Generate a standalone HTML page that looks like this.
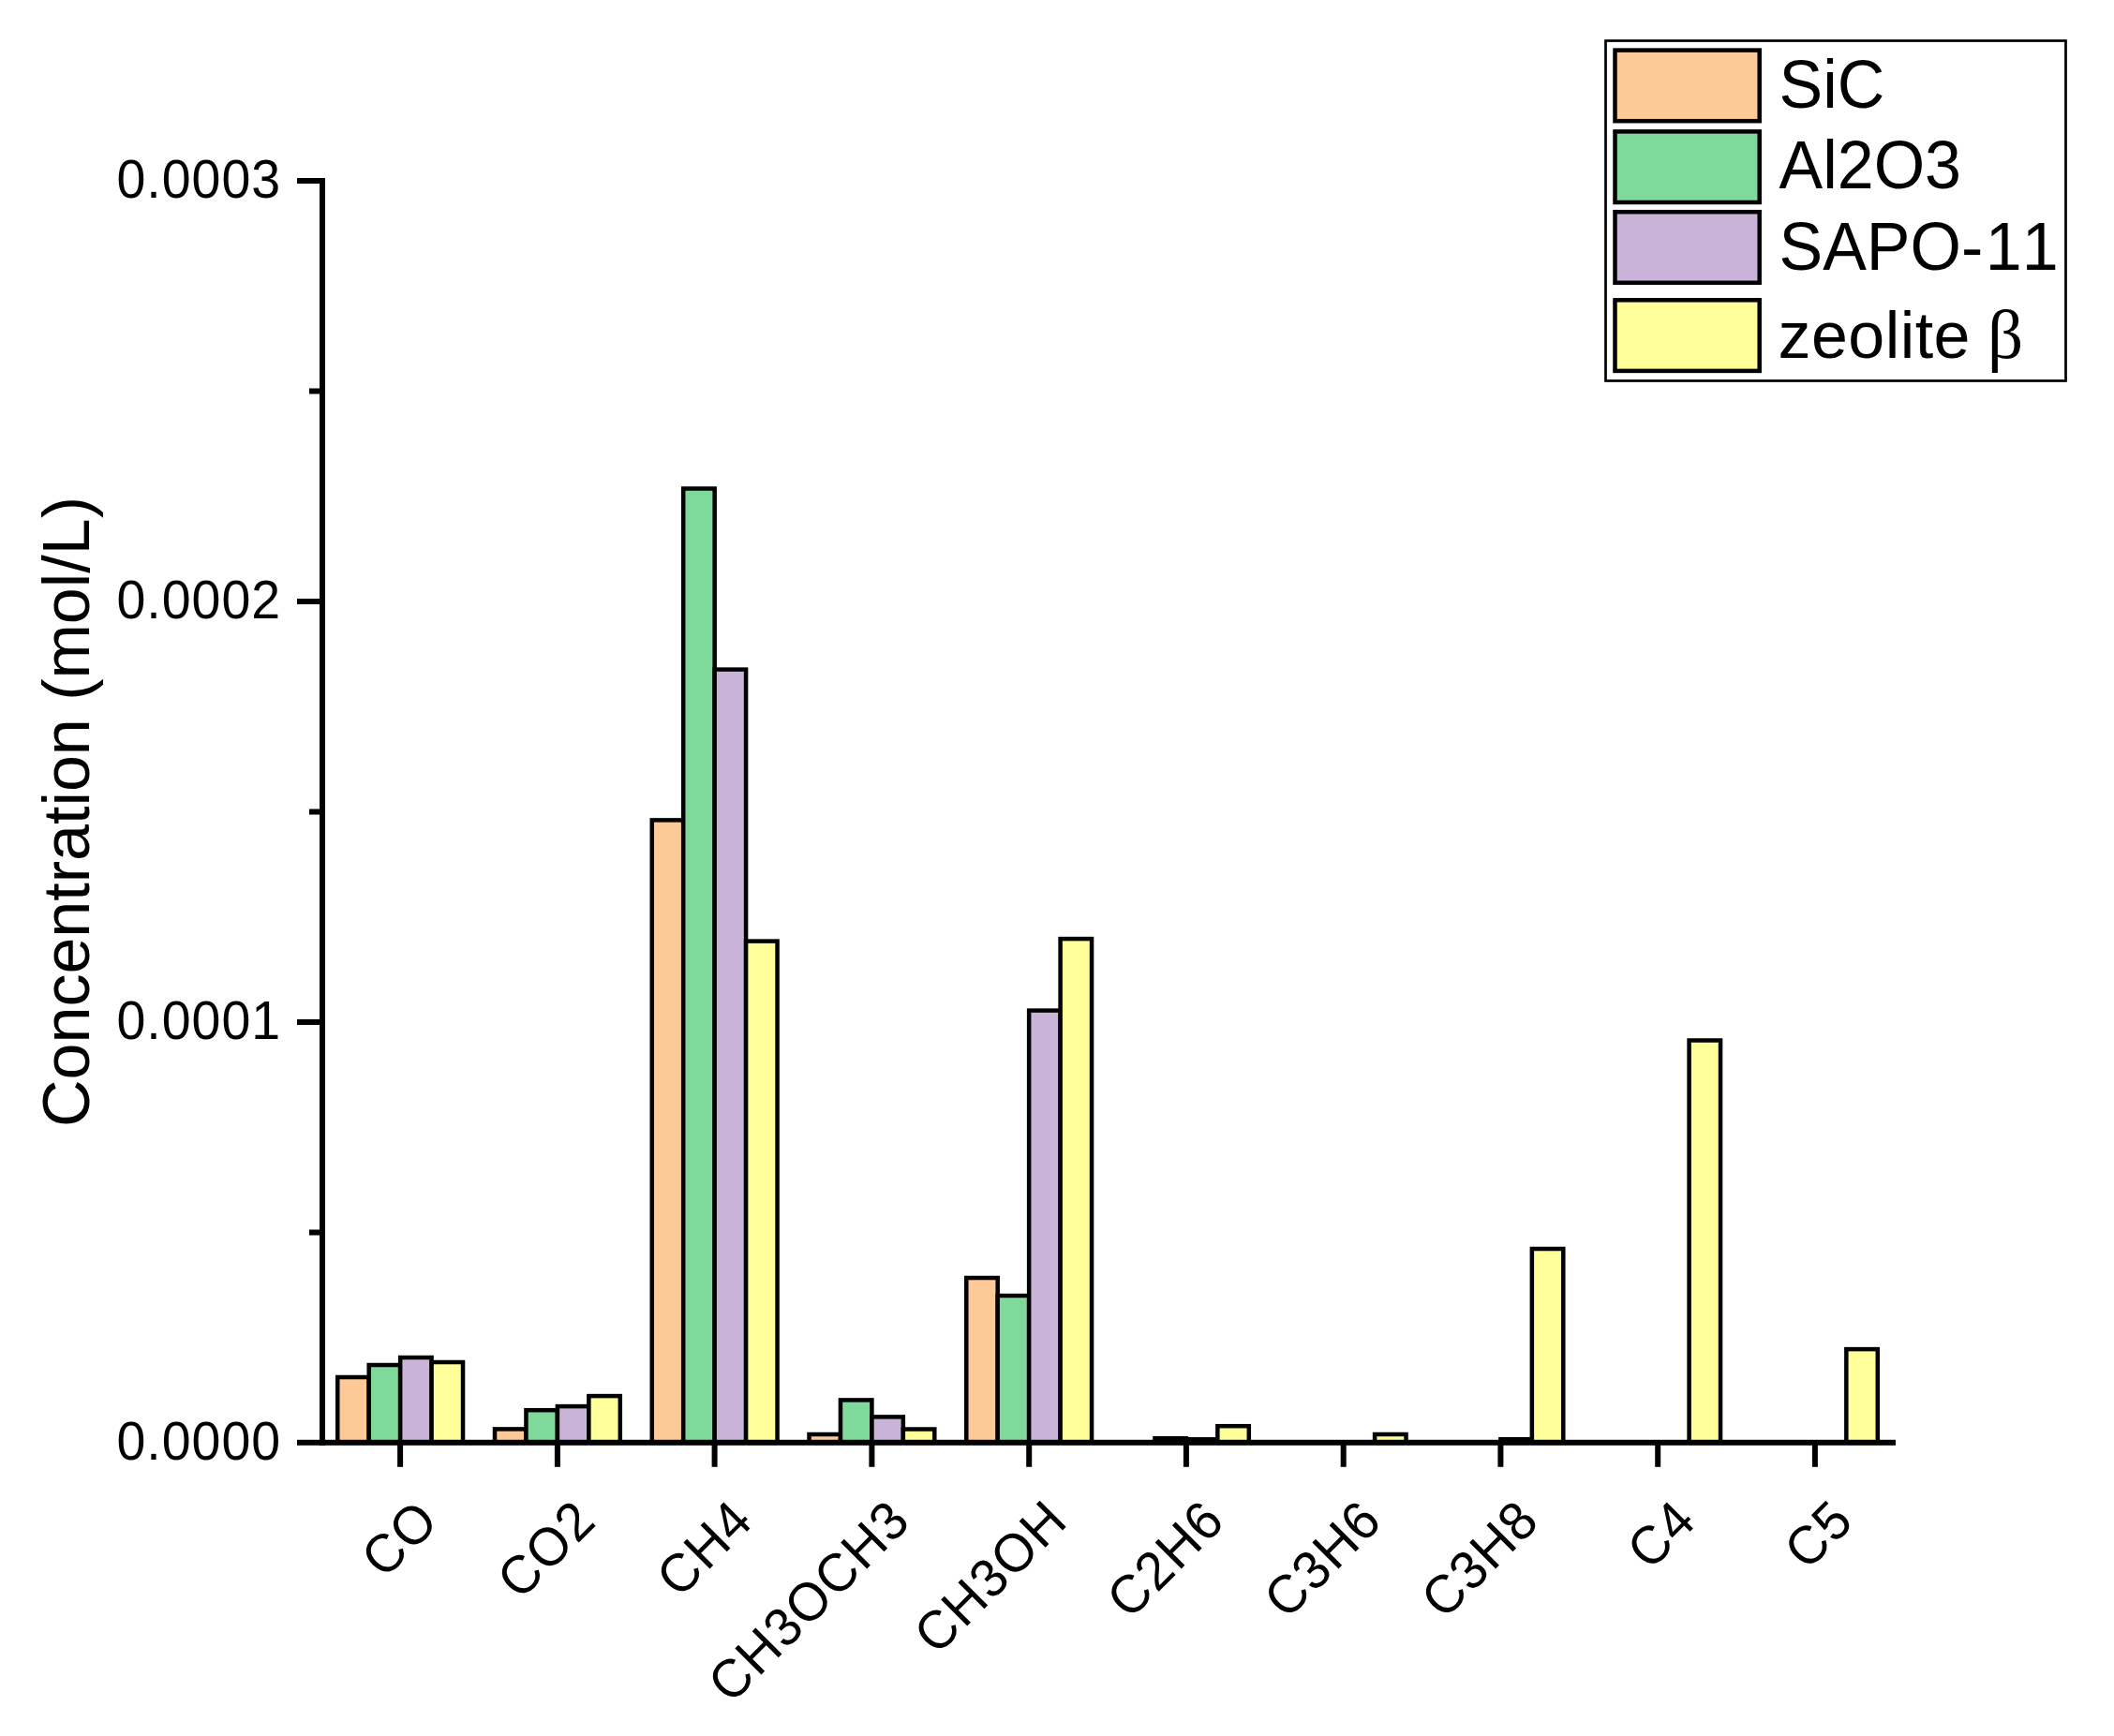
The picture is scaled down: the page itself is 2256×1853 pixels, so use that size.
<!DOCTYPE html>
<html lang="en">
<head>
<meta charset="utf-8">
<title>Concentration bar chart</title>
<style>
html,body{margin:0;padding:0;background:#fff;}
body{width:2256px;height:1853px;overflow:hidden;}
svg{display:block;}
text{font-family:"Liberation Sans",Arial,Helvetica,sans-serif;fill:#000;font-kerning:none;}
.t{font-size:55.5px;letter-spacing:1.0px;}
.x{letter-spacing:1.35px;}
.l{font-size:70px;letter-spacing:0px;}
.b{stroke:#000;stroke-width:4.5;stroke-linejoin:miter;}
.sym{font-family:"Liberation Serif","DejaVu Serif",serif;}
</style>
</head>
<body>
<svg width="2256" height="1853" viewBox="0 0 2256 1853">
<rect x="0" y="0" width="2256" height="1853" fill="#fff"/>
<g class="b">
<rect x="360.25" y="1470.00" width="33.45" height="69.80" fill="#FDC997"/>
<rect x="393.70" y="1457.00" width="33.45" height="82.80" fill="#7FD99B"/>
<rect x="427.15" y="1449.00" width="33.45" height="90.80" fill="#C9B3D9"/>
<rect x="460.60" y="1454.00" width="33.45" height="85.80" fill="#FFFF99"/>
<rect x="528.00" y="1525.40" width="33.45" height="14.40" fill="#FDC997"/>
<rect x="561.45" y="1505.20" width="33.45" height="34.60" fill="#7FD99B"/>
<rect x="594.90" y="1501.10" width="33.45" height="38.70" fill="#C9B3D9"/>
<rect x="628.35" y="1490.10" width="33.45" height="49.70" fill="#FFFF99"/>
<rect x="695.75" y="875.40" width="33.45" height="664.40" fill="#FDC997"/>
<rect x="729.20" y="521.50" width="33.45" height="1018.30" fill="#7FD99B"/>
<rect x="762.65" y="714.60" width="33.45" height="825.20" fill="#C9B3D9"/>
<rect x="796.10" y="1004.60" width="33.45" height="535.20" fill="#FFFF99"/>
<rect x="863.50" y="1531.00" width="33.45" height="8.80" fill="#FDC997"/>
<rect x="896.95" y="1494.40" width="33.45" height="45.40" fill="#7FD99B"/>
<rect x="930.40" y="1512.40" width="33.45" height="27.40" fill="#C9B3D9"/>
<rect x="963.85" y="1525.50" width="33.45" height="14.30" fill="#FFFF99"/>
<rect x="1031.25" y="1364.00" width="33.45" height="175.80" fill="#FDC997"/>
<rect x="1064.70" y="1383.00" width="33.45" height="156.80" fill="#7FD99B"/>
<rect x="1098.15" y="1078.60" width="33.45" height="461.20" fill="#C9B3D9"/>
<rect x="1131.60" y="1002.10" width="33.45" height="537.70" fill="#FFFF99"/>
<rect x="1232.45" y="1535.20" width="33.45" height="4.60" fill="#7FD99B"/>
<rect x="1265.90" y="1536.30" width="33.45" height="3.50" fill="#C9B3D9"/>
<rect x="1299.35" y="1522.20" width="33.45" height="17.60" fill="#FFFF99"/>
<rect x="1467.10" y="1531.00" width="33.45" height="8.80" fill="#FFFF99"/>
<rect x="1601.40" y="1536.20" width="33.45" height="3.60" fill="#C9B3D9"/>
<rect x="1634.85" y="1333.00" width="33.45" height="206.80" fill="#FFFF99"/>
<rect x="1802.60" y="1110.50" width="33.45" height="429.30" fill="#FFFF99"/>
<rect x="1970.35" y="1440.10" width="33.45" height="99.70" fill="#FFFF99"/>
</g>
<g fill="#000">
<rect x="341" y="190" width="6" height="1353"/>
<rect x="317" y="1536.8" width="1706" height="6"/>
<rect x="317" y="190.0" width="25" height="6"/>
<rect x="317" y="639.0" width="25" height="6"/>
<rect x="317" y="1088.0" width="25" height="6"/>
<rect x="330" y="414.5" width="12" height="6"/>
<rect x="330" y="863.5" width="12" height="6"/>
<rect x="330" y="1312.5" width="12" height="6"/>
<rect x="424.1" y="1540" width="6" height="25.8"/>
<rect x="591.9" y="1540" width="6" height="25.8"/>
<rect x="759.6" y="1540" width="6" height="25.8"/>
<rect x="927.4" y="1540" width="6" height="25.8"/>
<rect x="1095.2" y="1540" width="6" height="25.8"/>
<rect x="1262.9" y="1540" width="6" height="25.8"/>
<rect x="1430.7" y="1540" width="6" height="25.8"/>
<rect x="1598.4" y="1540" width="6" height="25.8"/>
<rect x="1766.2" y="1540" width="6" height="25.8"/>
<rect x="1933.9" y="1540" width="6" height="25.8"/>
</g>
<text class="t" transform="translate(300.2,210.8) scale(1,1.04)" text-anchor="end">0.0003</text>
<text class="t" transform="translate(300.2,659.8) scale(1,1.04)" text-anchor="end">0.0002</text>
<text class="t" transform="translate(300.2,1108.8) scale(1,1.04)" text-anchor="end">0.0001</text>
<text class="t" transform="translate(300.2,1557.8) scale(1,1.04)" text-anchor="end">0.0000</text>
<text class="l" transform="translate(94.5,866.5) rotate(-90)" text-anchor="middle">Concentration (mol/L)</text>
<text class="t x" id="xl0" transform="translate(470.85,1625.80) rotate(-45) scale(1,1.04)" text-anchor="end">CO</text>
<text class="t x" id="xl1" transform="translate(638.60,1625.80) rotate(-45) scale(1,1.04)" text-anchor="end">CO2</text>
<text class="t x" id="xl2" transform="translate(806.35,1625.80) rotate(-45) scale(1,1.04)" text-anchor="end">CH4</text>
<text class="t x" id="xl3" transform="translate(974.10,1625.80) rotate(-45) scale(1,1.04)" text-anchor="end">CH3OCH3</text>
<text class="t x" id="xl4" transform="translate(1141.85,1625.80) rotate(-45) scale(1,1.04)" text-anchor="end">CH3OH</text>
<text class="t x" id="xl5" transform="translate(1309.60,1625.80) rotate(-45) scale(1,1.04)" text-anchor="end">C2H6</text>
<text class="t x" id="xl6" transform="translate(1477.35,1625.80) rotate(-45) scale(1,1.04)" text-anchor="end">C3H6</text>
<text class="t x" id="xl7" transform="translate(1645.10,1625.80) rotate(-45) scale(1,1.04)" text-anchor="end">C3H8</text>
<text class="t x" id="xl8" transform="translate(1812.85,1625.80) rotate(-45) scale(1,1.04)" text-anchor="end">C4</text>
<text class="t x" id="xl9" transform="translate(1980.60,1625.80) rotate(-45) scale(1,1.04)" text-anchor="end">C5</text>
<rect x="1713.5" y="43.5" width="491" height="363" fill="#fff" stroke="#000" stroke-width="2.7"/>
<rect class="b" x="1723.5" y="53.6" width="154.2" height="75.6" fill="#FDC997"/>
<rect class="b" x="1723.5" y="140.4" width="154.2" height="75.6" fill="#7FD99B"/>
<rect class="b" x="1723.5" y="226.2" width="154.2" height="75.6" fill="#C9B3D9"/>
<rect class="b" x="1723.5" y="320.3" width="154.2" height="75.6" fill="#FFFF99"/>
<text class="l" transform="translate(1898.5,114.9) scale(1,1.035)">SiC</text>
<text class="l" transform="translate(1898.5,200.5) scale(1,1.035)">Al2O3</text>
<text class="l" transform="translate(1898.5,288.2) scale(1,1.035)">SAPO-<tspan dx="2.5">11</tspan></text>
<text class="l" x="1897.5" y="381.8" style="letter-spacing:0.45px" xml:space="preserve">zeolite <tspan class="sym" dx="-2" style="font-size:75px">β</tspan></text>
</svg>
</body>
</html>
